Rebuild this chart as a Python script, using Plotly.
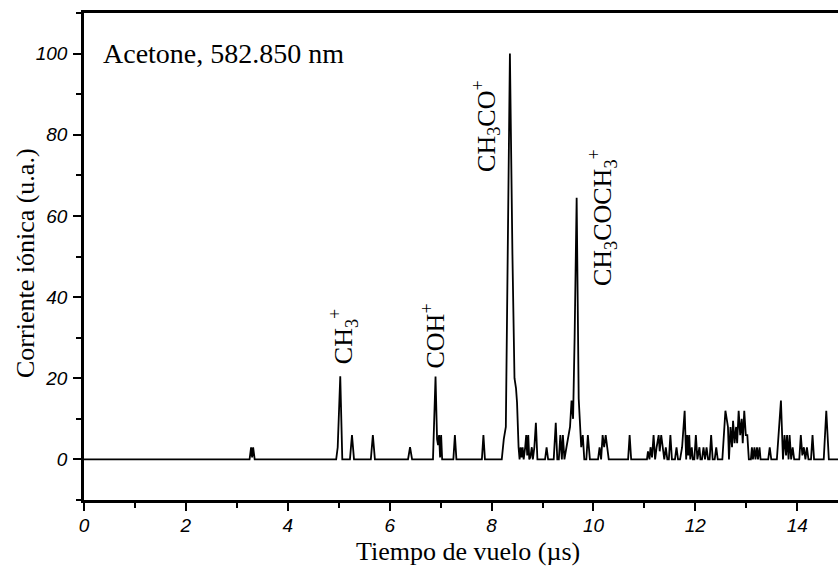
import plotly.graph_objects as go

# Time-of-flight trace: flight time (µs) and ion current (arb. units)
tiempo_us = [
    0.00, 3.25, 3.28, 3.30, 3.32, 3.35,
    4.95, 4.98, 5.00, 5.03, 5.07,
    5.22, 5.26, 5.30, 5.63, 5.67, 5.71,
    6.36, 6.40, 6.44,
    6.85, 6.90, 6.93, 6.95, 6.97, 6.99, 7.01, 7.03,
    7.25, 7.28, 7.31, 7.81, 7.84, 7.87,
    8.20, 8.24, 8.28, 8.32, 8.36, 8.41, 8.45, 8.48, 8.50, 8.53, 8.55,
    8.57, 8.59, 8.61, 8.63, 8.66, 8.68, 8.70, 8.72, 8.74, 8.76, 8.79, 8.81,
    8.84, 8.87, 8.90, 9.05, 9.08, 9.11,
    9.22, 9.26, 9.29, 9.32, 9.35, 9.38, 9.40, 9.43, 9.47, 9.51, 9.54, 9.57, 9.60,
    9.63, 9.67, 9.71, 9.74, 9.76, 9.79, 9.82, 9.86, 9.89, 9.93,
    10.09, 10.12, 10.15, 10.18, 10.21, 10.24, 10.27, 10.30,
    10.68, 10.71, 10.74,
    11.05, 11.07, 11.10, 11.12, 11.15, 11.18, 11.21, 11.24, 11.28, 11.30, 11.33,
    11.36, 11.39, 11.42, 11.45, 11.48, 11.51, 11.54, 11.60, 11.63, 11.66,
    11.70, 11.74, 11.79, 11.82, 11.84, 11.86, 11.88, 11.90, 11.93, 11.95,
    11.98, 12.01, 12.04, 12.08, 12.10, 12.13, 12.16, 12.19, 12.22, 12.25,
    12.28, 12.31, 12.34, 12.38, 12.41, 12.44,
    12.53, 12.59, 12.64, 12.66, 12.69, 12.72, 12.74, 12.77, 12.80, 12.82,
    12.85, 12.88, 12.91, 12.93, 12.96, 12.99, 13.02, 13.05,
    13.09, 13.11, 13.13, 13.16, 13.18, 13.21, 13.23, 13.26, 13.28,
    13.43, 13.46, 13.49,
    13.60, 13.64, 13.68, 13.72, 13.75, 13.78, 13.80, 13.83, 13.85, 13.88,
    13.91, 13.94, 14.04, 14.07, 14.10, 14.13, 14.16, 14.19, 14.22,
    14.27, 14.30, 14.33, 14.52, 14.57, 14.62, 14.80,
]
corriente = [
    0, 0, 3, 0.5, 3, 0,
    0, 3, 10, 20.5, 0,
    0, 6, 0, 0, 6, 0,
    0, 3, 0,
    0, 20.4, 5, 3.5, 6, 0.5, 6, 0,
    0, 6, 0, 0, 6, 0,
    0, 5, 8, 60, 100, 50, 20, 17.5, 14, 3, 0,
    3, 0.5, 3, 0, 3, 6, 1, 6, 0, 0.5, 3, 0,
    3, 9, 0, 0, 3, 0,
    0, 9, 0, 0, 6, 0, 6, 0, 3, 6, 8, 14.5, 10,
    30, 64.5, 15, 8.5, 3, 6, 0, 0, 6, 0,
    0, 3, 0, 6, 3, 6, 3, 0,
    0, 6, 0,
    0, 2, 0, 3, 0.5, 6, 0, 3, 6, 2, 6,
    3, 0, 3, 0, 0, 6, 0, 0, 3, 0,
    0, 3, 12, 0, 6, 1, 6, 0, 3, 0,
    0, 6, 0, 3, 0, 0, 3, 0, 3, 0,
    0, 6, 0, 0, 3, 0,
    0, 12, 8, 0, 8, 3, 9.5, 4, 8, 4,
    12, 6, 10, 4, 12, 6, 6, 0,
    0, 3, 0, 3, 0, 3, 0, 3, 0,
    0, 3, 0,
    0, 8, 14.5, 0, 6, 1, 6, 0, 6, 0,
    3, 0, 0, 6, 1, 3, 0, 3, 0,
    0, 6, 0, 0, 12, 0, 0,
]

# Ion labels: text, flight time, current at the label centre
ion_texto = ["CH<sub>3</sub><sup>+</sup>", "COH<sup>+</sup>",
             "CH<sub>3</sub>CO<sup>+</sup>", "CH<sub>3</sub>COCH<sub>3</sub><sup>+</sup>"]
ion_t = [5.09, 6.86, 7.90, 10.17]
ion_i = [30.2, 30.4, 82.3, 59.5]

x_range = [0, 14.8]
y_range = [-10, 110]

serif = "Liberation Serif, Times New Roman, serif"
sans_it = dict(family="Liberation Sans, Arial, sans-serif", size=19, color="black", style="italic")

fig = go.Figure()
fig.add_trace(go.Scatter(x=tiempo_us, y=corriente, mode="lines",
                         line=dict(color="black", width=1.8), showlegend=False))

for txt, tx, iy in zip(ion_texto, ion_t, ion_i):
    fig.add_annotation(x=tx, y=iy, xref="x", yref="y", text=txt, textangle=-90,
                       showarrow=False, xanchor="center", yanchor="middle",
                       font=dict(family=serif, size=26, color="black"))

# Pixel-placed texts: (text, x_px, y_px, angle, size, x-anchor, y-anchor)
W, H = 838, 566
L, R, T, B = 84, 0, 13, 66
pw, ph = W - L - R, H - T - B
px_texts = [
    ("Acetone, 582.850 nm", 102, 53, 0, 28, "left", "middle"),
    ("Tiempo de vuelo (µs)", 468, 567, 0, 26, "center", "bottom"),
    ("Corriente iónica (u.a.)", 25, 263, -90, 26, "center", "middle"),
]
for txt, px_, py_, ang, sz, xa, ya in px_texts:
    fig.add_annotation(x=(px_ - L) / pw, y=(H - B - py_) / ph, xref="paper", yref="paper",
                       text=txt, textangle=ang, showarrow=False, xanchor=xa, yanchor=ya,
                       borderpad=0, font=dict(family=serif, size=sz, color="black"))

axis_common = dict(showline=True, linecolor="black", linewidth=2.5, ticks="outside",
                   ticklen=8, tickwidth=2, tickcolor="black", showgrid=False, zeroline=False,
                   tickfont=sans_it)

fig.update_layout(
    width=W, height=H,
    margin=dict(l=L, r=R, t=T, b=B),
    paper_bgcolor="white", plot_bgcolor="white",
    xaxis=dict(range=x_range, dtick=2, tick0=0, mirror=True, ticklabelstandoff=-2,
               minor=dict(dtick=1, ticks="outside", ticklen=5, tickwidth=2, tickcolor="black"),
               **axis_common),
    yaxis=dict(range=y_range, dtick=20, tick0=0, ticklabelstandoff=2,
               minor=dict(dtick=10, ticks="outside", ticklen=5, tickwidth=2, tickcolor="black"),
               **axis_common),
)

fig.write_html("out.html")
